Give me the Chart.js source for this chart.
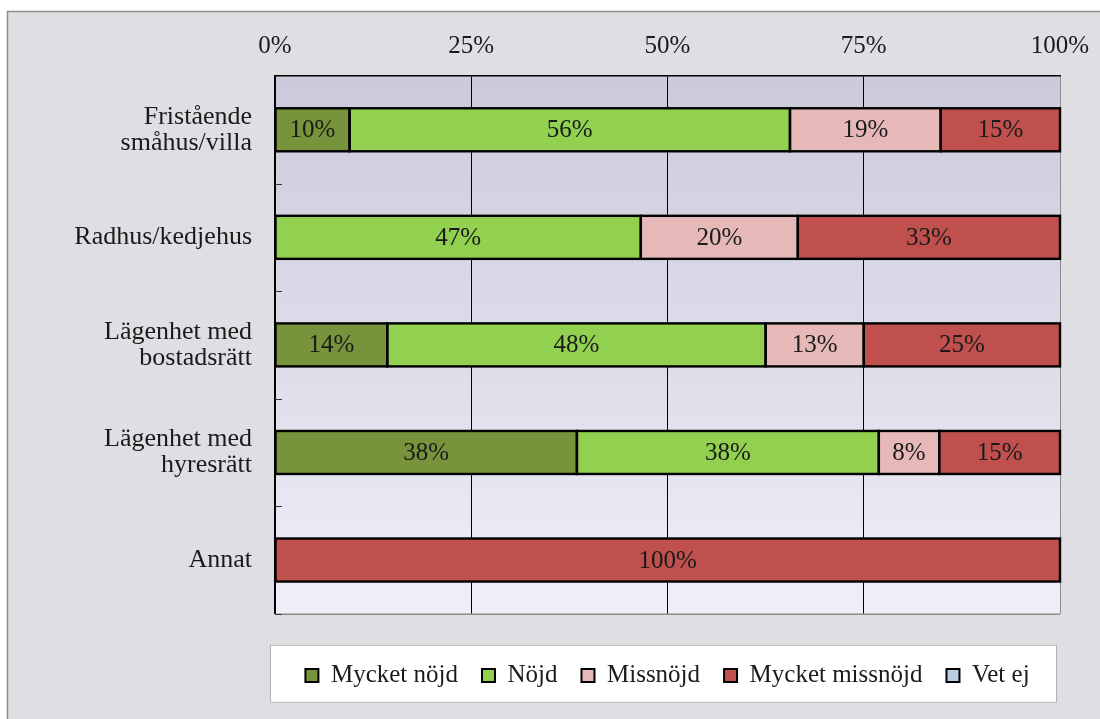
<!DOCTYPE html>
<html>
<head>
<meta charset="utf-8">
<script src="https://cdn.jsdelivr.net/npm/chart.js@4/dist/chart.umd.min.js"></script>
<style>
  html, body { margin: 0; padding: 0; background: #fff; }
  canvas { display: block; }
</style>
</head>
<body>
<canvas id="boendeChart" width="1100" height="719"></canvas>
<script>
// ===== Nöjdhet per boendeform (100% staplad) =====

const categories = [
  ["Fristående", "småhus/villa"],
  "Radhus/kedjehus",
  ["Lägenhet med", "bostadsrätt"],
  ["Lägenhet med", "hyresrätt"],
  "Annat",
];

const seriesNames = ["Mycket nöjd", "Nöjd", "Missnöjd", "Mycket missnöjd", "Vet ej"];
const seriesColors = ["#77933c", "#92d050", "#e6b9b8", "#c0504d", "#b9cde5"];

// andelar i procent
const mycketNojd     = [9.5, 0, 14.3, 38.46, 0];
const nojd           = [56.1, 46.6, 48.2, 38.46, 0];
const missnojd       = [19.2, 20.0, 12.5, 7.69, 0];
const mycketMissnojd = [15.2, 33.4, 25.0, 15.39, 100];
const vetEj          = [0, 0, 0, 0, 0];

const xTicks = [0, 25, 50, 75, 100];

const FONT = "'Liberation Serif', 'DejaVu Serif', serif";

// bakgrund: ram, plotytans gradient och vit legendruta
const backgroundPlugin = {
  id: "bakgrund",
  beforeDraw(chart) {
    const { ctx, chartArea: a, width, height, legend } = chart;
    ctx.save();
    ctx.fillStyle = "#ffffff";
    ctx.fillRect(0, 0, width, height);
    ctx.fillStyle = "#dfdee3";
    ctx.fillRect(7, 11, width - 7, height - 11);
    ctx.strokeStyle = "#8c8c8c";
    ctx.lineWidth = 1.5;
    ctx.beginPath();
    ctx.moveTo(7.5, height);
    ctx.lineTo(7.5, 11.5);
    ctx.lineTo(width, 11.5);
    ctx.stroke();

    const g = ctx.createLinearGradient(0, a.top, 0, a.bottom);
    g.addColorStop(0, "#cbcadb");
    g.addColorStop(1, "#eeeff8");
    ctx.fillStyle = g;
    ctx.fillRect(a.left, a.top, a.right - a.left, a.bottom - a.top);

    if (legend) {
      const top = a.bottom + 31;
      ctx.fillStyle = "#ffffff";
      ctx.fillRect(a.left - 5, top, a.right - a.left + 2, 58);
      ctx.strokeStyle = "#b4b4b4";
      ctx.lineWidth = 1;
      ctx.strokeRect(a.left - 4.5, top + 0.5, a.right - a.left + 1, 57);
    }
    ctx.restore();
  },
  beforeDatasetsDraw(chart) {
    const { ctx, chartArea: a, scales } = chart;
    ctx.save();
    // nedre kant
    ctx.strokeStyle = "#8c8c8c";
    ctx.lineWidth = 1.5;
    ctx.beginPath();
    ctx.moveTo(a.left, a.bottom + 0.5);
    ctx.lineTo(a.right, a.bottom + 0.5);
    ctx.stroke();
    // små skalstreck mellan kategorierna
    const y = scales.y;
    ctx.strokeStyle = "#333";
    ctx.lineWidth = 1;
    for (let i = 0; i < categories.length; i++) {
      const py = Math.round((y.getPixelForValue(i) + y.getPixelForValue(i + 1)) / 2) + 0.5;
      ctx.beginPath();
      ctx.moveTo(a.left, py);
      ctx.lineTo(a.left + 7, py);
      ctx.stroke();
    }
    ctx.restore();
  },
};

// svarta ramar runt segmenten och procentetiketter
const barLabelPlugin = {
  id: "stapeletiketter",
  afterDatasetsDraw(chart) {
    const { ctx } = chart;
    ctx.save();
    chart.data.datasets.forEach((ds, di) => {
      const meta = chart.getDatasetMeta(di);
      meta.data.forEach((bar, i) => {
        const v = ds.data[i];
        if (!v) return;
        const { x, y, base, height } = bar.getProps(["x", "y", "base", "height"], true);
        const left = Math.min(x, base);
        const w = Math.abs(x - base);
        ctx.strokeStyle = "#000";
        ctx.lineWidth = 2.4;
        ctx.strokeRect(left, y - height / 2, w, height);
      });
    });
    ctx.fillStyle = "#1a1a1a";
    ctx.font = "25px " + FONT;
    ctx.textAlign = "center";
    ctx.textBaseline = "middle";
    chart.data.datasets.forEach((ds, di) => {
      const meta = chart.getDatasetMeta(di);
      meta.data.forEach((bar, i) => {
        const v = ds.data[i];
        if (!v) return;
        const { x, y, base } = bar.getProps(["x", "y", "base"], true);
        ctx.fillText(Math.round(v) + "%", (x + base) / 2, y + 1);
      });
    });
    ctx.restore();
  },
};

const seriesData = [mycketNojd, nojd, missnojd, mycketMissnojd, vetEj];

new Chart(document.getElementById("boendeChart"), {
  type: "bar",
  data: {
    labels: categories,
    datasets: seriesNames.map((name, k) => ({
      label: name,
      data: seriesData[k],
      backgroundColor: seriesColors[k],
      borderWidth: 0,
      categoryPercentage: 1,
      barPercentage: 0.4,
    })),
  },
  options: {
    indexAxis: "y",
    responsive: false,
    animation: false,
    layout: { padding: { left: 10, top: 12, right: 40, bottom: 21 } },
    scales: {
      x: {
        position: "top",
        stacked: true,
        min: 0,
        max: 100,
        afterBuildTicks: (s) => { s.ticks = xTicks.map((v) => ({ value: v })); },
        afterFit: (s) => { s.height = 64; s.paddingLeft = 0; s.paddingRight = 0; },
        ticks: {
          callback: (v) => v + "%",
          color: "#1a1a1a",
          padding: 17,
          font: { family: FONT, size: 25, lineHeight: 1.0 },
        },
        grid: {
          drawTicks: false,
          color: (c) => (c.tick && c.tick.value === 100 ? "#8c8c8c" : "#000"),
          lineWidth: 1,
        },
        border: { display: true, color: "#000", width: 1.5 },
      },
      y: {
        stacked: true,
        afterFit: (s) => { s.width = 265; },
        ticks: {
          color: "#1a1a1a",
          padding: 23,
          font: { family: FONT, size: 26, lineHeight: 1.0 },
        },
        grid: { display: false, drawTicks: false },
        border: { display: true, color: "#000", width: 1.5 },
      },
    },
    plugins: {
      legend: {
        position: "bottom",
        fullSize: false,
        title: { display: true, text: "", font: { size: 1 }, padding: { top: 24, bottom: 0 } },
        labels: {
          boxWidth: 13,
          boxHeight: 13,
          padding: 24,
          color: "#1a1a1a",
          font: { family: FONT, size: 25 },
          generateLabels(chart) {
            const items = Chart.defaults.plugins.legend.labels.generateLabels(chart);
            items.forEach((it) => { it.strokeStyle = "#000"; it.lineWidth = 2; });
            return items;
          },
        },
      },
      tooltip: { enabled: false },
    },
  },
  plugins: [backgroundPlugin, barLabelPlugin],
});
</script>
</body>
</html>
